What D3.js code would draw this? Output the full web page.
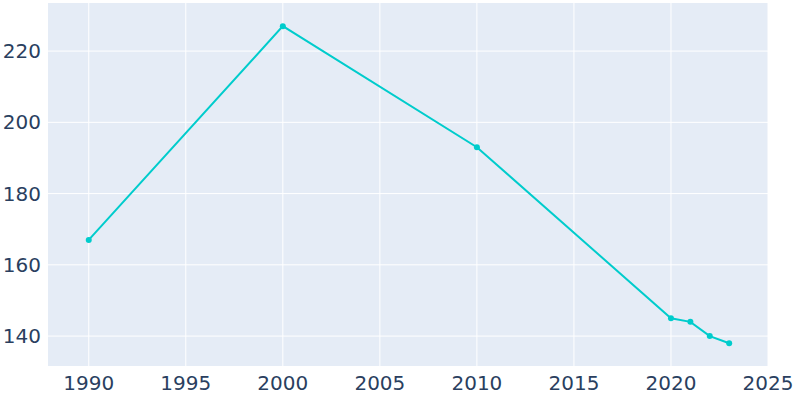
<!DOCTYPE html>
<html>
<head>
<meta charset="utf-8">
<script src="https://cdn.jsdelivr.net/npm/d3@7"></script>
<style>body{margin:0;background:#fff}</style>
</head>
<body>
<svg></svg>
<script>
const years = [1990, 2000, 2010, 2020, 2021, 2022, 2023]
const population = [167, 227, 193, 145, 144, 140, 138]
const xTicks = [1990, 1995, 2000, 2005, 2010, 2015, 2020, 2025]
const yTicks = [140, 160, 180, 200, 220]

const svgWidth = 800
const svgHeight = 400
const plotLeft = 48, plotRight = 768, plotTop = 3, plotBottom = 366

const svg = d3.select('svg').attr('width', svgWidth).attr('height', svgHeight)

const x = d3.scaleLinear().domain([1987.9, 2025]).range([plotLeft, plotRight])
const y = d3.scaleLinear().domain([131.6, 233.5]).range([plotBottom, plotTop])

svg.append('rect')
    .attr('x', plotLeft).attr('y', plotTop)
    .attr('width', plotRight - plotLeft).attr('height', plotBottom - plotTop)
    .attr('fill', '#e5ecf6')

// grid
svg.selectAll('.vgrid').data(xTicks).join('line')
    .attr('x1', d => x(d)).attr('x2', d => x(d))
    .attr('y1', plotTop).attr('y2', plotBottom)
    .attr('stroke', '#fff').attr('stroke-width', 1)
svg.selectAll('.hgrid').data(yTicks).join('line')
    .attr('y1', d => y(d)).attr('y2', d => y(d))
    .attr('x1', plotLeft).attr('x2', plotRight)
    .attr('stroke', '#fff').attr('stroke-width', 1)

const font = '"DejaVu Sans", sans-serif'
svg.selectAll('.xlab').data(xTicks).join('text')
    .attr('x', d => x(d)).attr('y', 390)
    .attr('text-anchor', 'middle')
    .attr('font-family', font).attr('font-size', 20).attr('fill', '#2a3f5f')
    .text(d => d)
svg.selectAll('.ylab').data(yTicks).join('text')
    .attr('x', 41).attr('y', d => y(d) + 7)
    .attr('text-anchor', 'end')
    .attr('font-family', font).attr('font-size', 20).attr('fill', '#2a3f5f')
    .text(d => d)

const pts = years.map((yr, i) => [yr, population[i]])
svg.append('path')
    .datum(pts)
    .attr('d', d3.line().x(d => x(d[0])).y(d => y(d[1])))
    .attr('fill', 'none').attr('stroke', '#00cccc').attr('stroke-width', 2)
svg.selectAll('.pt').data(pts).join('circle')
    .attr('cx', d => x(d[0])).attr('cy', d => y(d[1])).attr('r', 3)
    .attr('fill', '#00cccc')
</script>
</body>
</html>
